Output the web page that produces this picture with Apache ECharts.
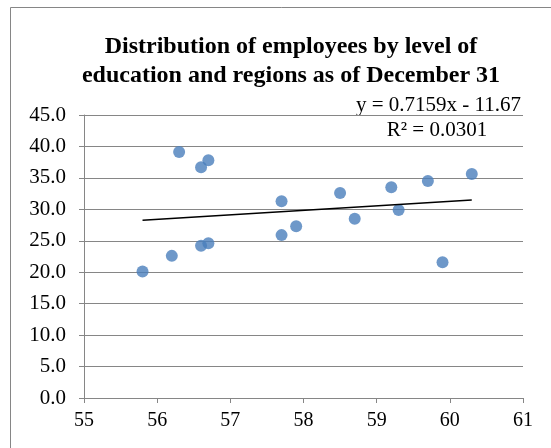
<!DOCTYPE html>
<html>
<head>
<meta charset="utf-8">
<script src="https://cdn.jsdelivr.net/npm/echarts@6/dist/echarts.min.js"></script>
<style>
  html, body { margin: 0; padding: 0; background: #fff; }
</style>
</head>
<body>
<div id="main" style="width: 551px; height: 448px"></div>
<script>
// values
var xValues = [55.8, 56.2, 56.3, 56.6, 56.7, 56.6, 56.7, 57.7, 57.7, 57.9, 58.5, 58.7, 59.2, 59.3, 59.7, 59.9, 60.3];
var yValues = [20.1, 22.6, 39.1, 36.7, 37.8, 24.2, 24.6, 31.3, 25.9, 27.3, 32.6, 28.5, 33.5, 29.9, 34.5, 21.6, 35.6];
// linear trendline as printed on the chart
var slope = 0.7159;
var intercept = -11.67;
var rSquared = "0.0301";

var points = xValues.map(function (x, i) {
  return [x, yValues[i]];
});
var xMin = Math.min.apply(null, xValues);
var xMax = Math.max.apply(null, xValues);
var trend = [
  [xMin, slope * xMin + intercept],
  [xMax, slope * xMax + intercept],
];

var chartDom = document.getElementById("main");
var myChart = echarts.init(chartDom);
var font = "'Liberation Serif', 'Times New Roman', serif";
var option = {
  animation: false,
  title: {
    text: "Distribution of employees by level of\neducation and regions as of December 31",
    left: 286,
    top: 27,
    textAlign: "center",
    textStyle: {
      fontFamily: font,
      fontWeight: "bold",
      fontSize: 24,
      lineHeight: 29,
      color: "#000",
    },
  },
  graphic: [
    {
      type: "rect",
      shape: { x: 10.5, y: 7.5, width: 560, height: 460 },
      style: { fill: "none", stroke: "#868686", lineWidth: 1 },
      silent: true,
    },
    {
      type: "text",
      x: 521,
      y: 95,
      style: {
        text: "y = " + slope + "x - " + Math.abs(intercept),
        font: "21px " + font,
        fill: "#000",
        align: "right",
      },
    },
    {
      type: "text",
      x: 437,
      y: 120,
      style: {
        text: "R² = " + rSquared,
        font: "21px " + font,
        fill: "#000",
        align: "center",
      },
    },
  ],
  grid: {
    left: 84,
    right: 28,
    top: 115,
    bottom: 50,
  },
  xAxis: {
    type: "value",
    min: 55,
    max: 61,
    interval: 1,
    splitLine: { show: false },
    axisLine: { show: true, lineStyle: { color: "#868686", width: 1 } },
    axisTick: { show: true, inside: false, length: 5, lineStyle: { color: "#868686" } },
    axisLabel: { color: "#000", fontFamily: font, fontSize: 20, margin: 13 },
  },
  yAxis: {
    type: "value",
    min: 0,
    max: 45,
    interval: 5,
    axisLine: { show: true, lineStyle: { color: "#868686", width: 1 } },
    axisTick: { show: true, length: 5, lineStyle: { color: "#868686" } },
    splitLine: { show: true, lineStyle: { color: "#868686", width: 1 } },
    axisLabel: {
      color: "#000",
      fontFamily: font,
      fontSize: 21,
      margin: 18,
      formatter: function (v) {
        return v.toFixed(1);
      },
    },
  },
  series: [
    {
      type: "scatter",
      data: points,
      symbol: "circle",
      symbolSize: 12,
      itemStyle: { color: "#4a7ebb" },
      z: 3,
    },
    {
      type: "line",
      data: trend,
      symbol: "none",
      lineStyle: { color: "#000", width: 1.5 },
      z: 4,
    },
  ],
};
myChart.setOption(option);
</script>
</body>
</html>
